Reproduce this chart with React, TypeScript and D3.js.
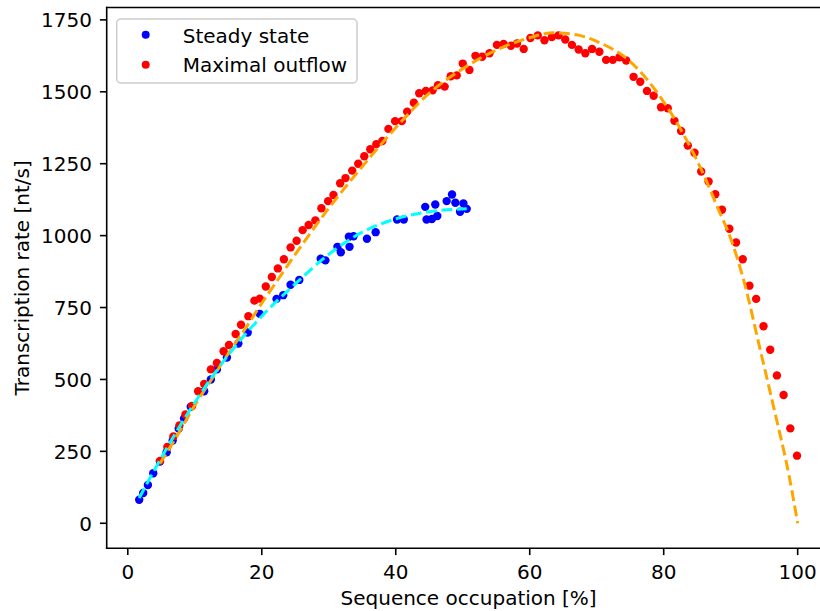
import React from 'react';
import * as d3 from 'd3';

// Steady state (blue points)
const steadyX = [1.7, 2.3, 3.0, 3.8, 4.8, 5.8, 6.7, 7.6, 8.4, 9.4, 11.4, 12.4, 13.3, 14.8, 16.5, 17.9, 19.7, 22.2, 23.2, 24.3, 25.6, 28.8, 29.5, 31.3, 31.8, 33.0, 33.1, 33.7, 35.7, 37.0, 40.2, 41.2, 44.4, 44.6, 45.4, 45.9, 46.2, 47.6, 48.4, 48.9, 49.6, 50.1, 50.6];
const steadyY = [82, 105, 133, 174, 215, 247, 288, 329, 364, 405, 459, 500, 535, 576, 625, 663, 728, 780, 793, 829, 846, 920, 914, 961, 942, 996, 961, 998, 989, 1012, 1056, 1056, 1100, 1056, 1058, 1108, 1068, 1120, 1143, 1114, 1083, 1112, 1093];

// Maximal outflow (red points)
const maxX = [4.8, 5.9, 6.8, 7.7, 8.6, 9.6, 10.5, 11.4, 12.4, 13.3, 14.3, 15.1, 16.1, 16.9, 18.0, 18.9, 19.7, 20.6, 21.5, 22.4, 23.3, 24.3, 25.2, 26.1, 27.0, 28.0, 28.9, 29.9, 30.7, 31.7, 32.5, 33.5, 34.4, 35.3, 36.2, 37.1, 38.0, 38.9, 39.9, 40.9, 41.7, 42.7, 43.5, 44.5, 45.5, 46.3, 47.3, 48.2, 49.1, 50.0, 51.0, 51.9, 52.9, 54.0, 55.1, 56.1, 57.2, 58.1, 59.1, 60.1, 61.2, 62.2, 63.3, 64.3, 65.3, 66.3, 67.3, 68.3, 69.3, 70.4, 71.4, 72.4, 73.4, 74.4, 75.5, 76.5, 77.5, 78.5, 79.6, 80.6, 81.6, 82.6, 83.6, 84.6, 85.6, 86.7, 87.7, 88.7, 89.8, 90.8, 91.8, 92.8, 93.8, 94.9, 95.9, 96.9, 97.9, 98.9, 99.9];
const maxY = [217, 265, 302, 340, 378, 408, 459, 484, 535, 557, 598, 620, 658, 690, 720, 774, 781, 823, 856, 886, 918, 959, 982, 1019, 1037, 1053, 1095, 1120, 1141, 1182, 1200, 1226, 1250, 1276, 1300, 1318, 1329, 1371, 1398, 1398, 1431, 1462, 1495, 1503, 1505, 1523, 1518, 1554, 1557, 1598, 1576, 1625, 1622, 1634, 1663, 1666, 1660, 1668, 1649, 1687, 1696, 1679, 1690, 1696, 1682, 1663, 1647, 1634, 1649, 1639, 1611, 1611, 1620, 1609, 1552, 1535, 1503, 1486, 1446, 1443, 1399, 1364, 1313, 1288, 1223, 1188, 1144, 1090, 1024, 976, 918, 826, 780, 685, 603, 514, 446, 330, 235];

// Fit curves
const steadyFitX = [1.7, 5, 10, 15, 20, 25, 30, 35, 40, 45, 50.6];
const steadyFitY = [88, 228, 420, 585, 720, 832, 935, 1012, 1058, 1083, 1093];
const maxFitX = [4.8, 7.5, 10, 12.5, 15, 17.5, 20, 22.5, 25, 30, 35, 40, 45, 50, 55, 60, 63.5, 67, 70, 75, 80, 83, 86, 88, 90, 92, 94.3, 96.5, 98.7, 100];
const maxFitY = [208, 310, 410, 500, 590, 675, 765, 850, 935, 1095, 1240, 1375, 1495, 1580, 1645, 1688, 1705, 1698, 1675, 1605, 1465, 1350, 1210, 1100, 990, 840, 614, 395, 167, 0];

const xTicks = [0, 20, 40, 60, 80, 100];
const yTicks = [0, 250, 500, 750, 1000, 1250, 1500, 1750];

const FONT = 'DejaVu Sans, sans-serif';
const FS = 20;

export default function App() {
  const W = 820, H = 611;
  const left = 106.7, right = 830.5, top = 7.5, bottom = 548.3;
  const x = d3.scaleLinear().domain([-3.15, 104.9]).range([left, right]);
  const y = d3.scaleLinear().domain([-87, 1793]).range([bottom, top]);
  const line = d3.line<[number, number]>().x(d => x(d[0])).y(d => y(d[1])).curve(d3.curveMonotoneX);
  const steadyFit: [number, number][] = steadyFitX.map((v, i) => [v, steadyFitY[i]]);
  const maxFit: [number, number][] = maxFitX.map((v, i) => [v, maxFitY[i]]);
  const R = 4.2;
  const dash = '10.8,4.7';
  return (
    <svg width={W} height={H} style={{ position: 'absolute', left: 0, top: 0, background: '#fff' }} fontFamily={FONT}>
      <rect x={0} y={0} width={W} height={H} fill="#fff" />
      <defs>
        <clipPath id="plotclip">
          <rect x={left} y={top} width={right - left} height={bottom - top} />
        </clipPath>
      </defs>
      <g clipPath="url(#plotclip)">
        {steadyX.map((v, i) => (
          <circle key={'b' + i} cx={x(v)} cy={y(steadyY[i])} r={R} fill="#0000ff" />
        ))}
        {maxX.map((v, i) => (
          <circle key={'r' + i} cx={x(v)} cy={y(maxY[i])} r={R} fill="#ff0000" />
        ))}
        <path d={line(maxFit) || ''} fill="none" stroke="#ffa500" strokeWidth={3} strokeDasharray={dash} />
        <path d={line(steadyFit) || ''} fill="none" stroke="#00ffff" strokeWidth={3} strokeDasharray={dash} />
      </g>
      {/* spines */}
      <line x1={left} x2={left} y1={top} y2={bottom} stroke="#000" strokeWidth={1.6} strokeLinecap="square" />
      <line x1={left} x2={right} y1={bottom} y2={bottom} stroke="#000" strokeWidth={1.6} strokeLinecap="square" />
      <line x1={left} x2={right} y1={top} y2={top} stroke="#000" strokeWidth={1.6} strokeLinecap="square" />
      {/* x ticks */}
      {xTicks.map(t => (
        <g key={'xt' + t}>
          <line x1={x(t)} x2={x(t)} y1={bottom} y2={bottom + 6.8} stroke="#000" strokeWidth={1.6} />
          <text x={x(t)} y={578.5} textAnchor="middle" fontSize={FS} fill="#000">{t}</text>
        </g>
      ))}
      {/* y ticks */}
      {yTicks.map(t => (
        <g key={'yt' + t}>
          <line x1={left - 6.8} x2={left} y1={y(t)} y2={y(t)} stroke="#000" strokeWidth={1.6} />
          <text x={92} y={y(t) + 7.5} textAnchor="end" fontSize={FS} fill="#000">{t}</text>
        </g>
      ))}
      <text x={(left + right) / 2} y={605} textAnchor="middle" fontSize={FS} fill="#000">Sequence occupation [%]</text>
      <text transform={`translate(29,${(top + bottom) / 2}) rotate(-90)`} textAnchor="middle" fontSize={FS} fill="#000">Transcription rate [nt/s]</text>
      {/* legend */}
      <rect x={116.7} y={19} width={240.3} height={64} rx={4} ry={4} fill="#fff" fillOpacity={0.8} stroke="#cccccc" strokeWidth={1.5} />
      <circle cx={145.7} cy={34.7} r={4} fill="#0000ff" />
      <text x={182.7} y={42.5} fontSize={FS} fill="#000">Steady state</text>
      <circle cx={145.7} cy={64.7} r={4} fill="#ff0000" />
      <text x={182.7} y={72} fontSize={FS} fill="#000">Maximal outflow</text>
    </svg>
  );
}
